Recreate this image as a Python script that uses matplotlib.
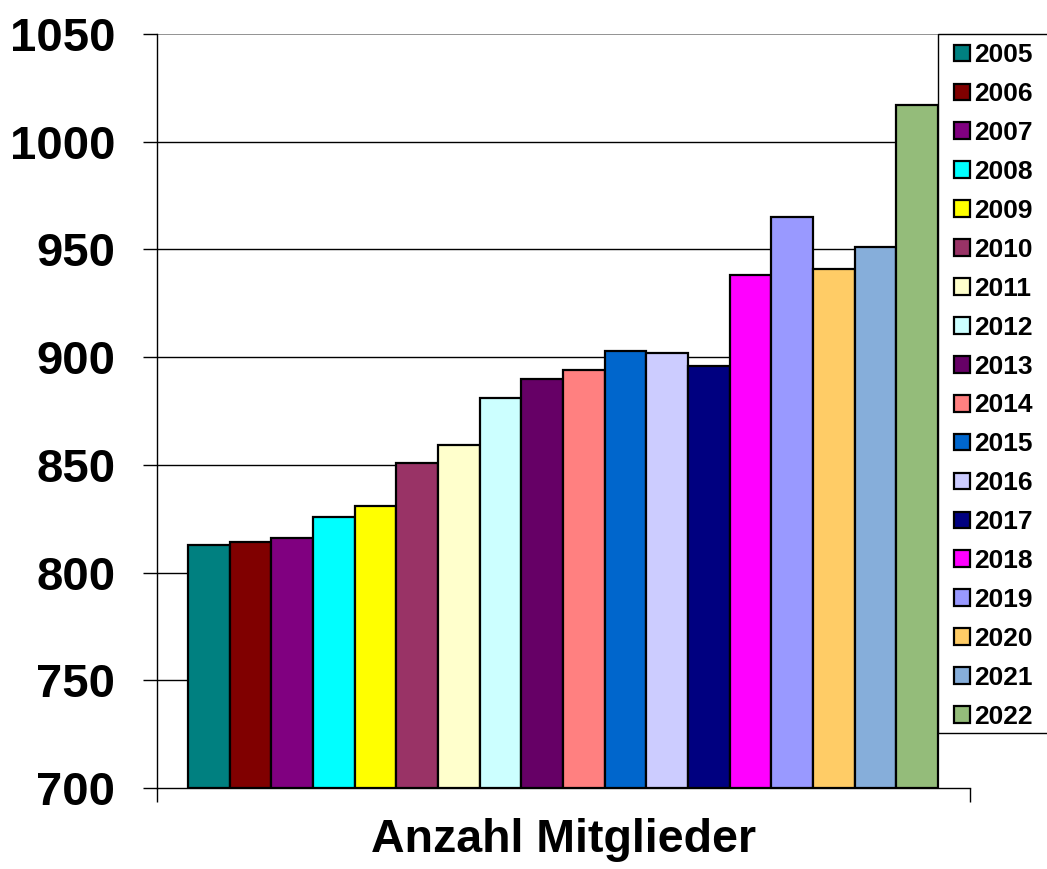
import matplotlib
matplotlib.use("Agg")
import matplotlib.pyplot as plt
from matplotlib.patches import Rectangle

years = ["2005", "2006", "2007", "2008", "2009", "2010", "2011", "2012", "2013",
         "2014", "2015", "2016", "2017", "2018", "2019", "2020", "2021", "2022"]
members = [813, 814, 816, 826, 831, 851, 859, 881, 890,
           894, 903, 902, 896, 938, 965, 941, 951, 1017]
colors = ["#008080", "#800000", "#800080", "#00FFFF", "#FFFF00", "#993366",
          "#FFFFCC", "#CCFFFF", "#660066", "#FF8080", "#0066CC", "#CCCCFF",
          "#000080", "#FF00FF", "#9999FF", "#FFCC66", "#86AEDA", "#94BC7A"]
yticks = [700, 750, 800, 850, 900, 950, 1000, 1050]
xlabel = "Anzahl Mitglieder"

plt.rcParams['font.family'] = ['Liberation Sans', 'DejaVu Sans']
plt.rcParams['font.weight'] = 'bold'

W, H = 1047, 869
fig = plt.figure(figsize=(W / 100, H / 100), dpi=100)
ax = fig.add_axes([157 / W, 1 - 788 / H, (970 - 157) / W, (788 - 34) / H])

handles = []
for i, (y, v, c) in enumerate(zip(years, members, colors)):
    b = ax.bar(i, v - 700, bottom=700, width=1.0, color=c, edgecolor="black",
               linewidth=1.6, label=y, zorder=3)
    handles.append(b)

ax.set_ylim(700, 1050)
ax.set_xlim(-1.244, 18.268)
ax.set_yticks(yticks)
ax.set_yticklabels([str(t) for t in yticks], fontsize=34, fontweight='bold')
for t in yticks[1:-1]:
    ax.axhline(t, color="black", linewidth=1.0, zorder=1)
ax.axhline(1050, color="#808080", linewidth=1.2, zorder=1)

ax.set_xticks([-1.244, 18.268])
ax.set_xticklabels(["", ""])
ax.tick_params(axis='x', length=10, width=1, color="black", direction="out")
ax.tick_params(axis='y', length=10, width=1, color="black", direction="out", pad=20)

for s in ["top", "right"]:
    ax.spines[s].set_visible(False)
ax.spines["left"].set_color("black")
ax.spines["left"].set_linewidth(1)
ax.spines["bottom"].set_color("black")
ax.spines["bottom"].set_linewidth(1)

ax.set_xlabel(xlabel, fontsize=33.5, fontweight='bold')
ax.xaxis.label.set_va('baseline')
ax.xaxis.set_label_coords(0.5, (788 - 852) / (788 - 34))

# legend frame
frame = Rectangle((938 / W, 1 - 733 / H), (1070 - 938) / W, (733 - 34) / H,
                  transform=fig.transFigure, facecolor="white",
                  edgecolor="black", linewidth=1.0, zorder=5)
fig.patches.append(frame)

leg = fig.legend(handles, years, loc="upper left",
                 bbox_to_anchor=(949 / W, 1 - 38 / H),
                 bbox_transform=fig.transFigure, borderaxespad=0,
                 frameon=False,
                 prop={'size': 19, 'weight': 'bold'},
                 handlelength=0.6, handleheight=0.6, handletextpad=0.15,
                 labelspacing=0.565, borderpad=0.2)
leg.set_zorder(6)

fig.savefig("out.png", dpi=100)
